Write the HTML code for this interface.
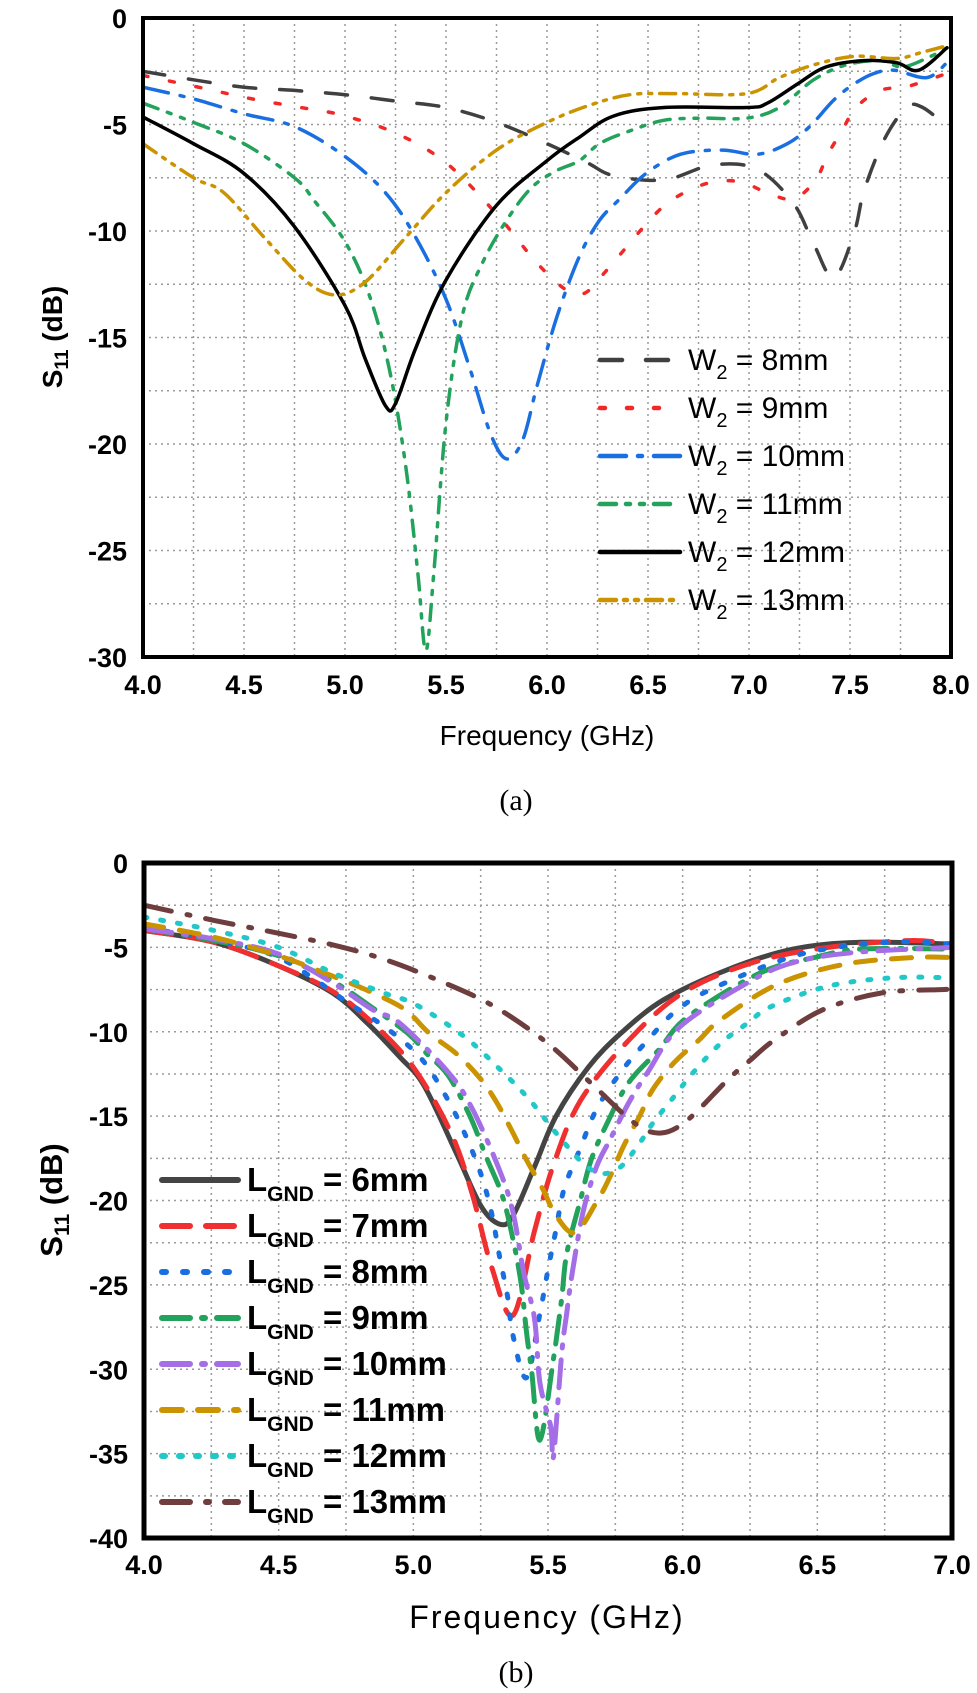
<!DOCTYPE html>
<html><head><meta charset="utf-8"><style>
html,body{margin:0;padding:0;background:#fff;}
svg{display:block;}
.tk{font-family:"Liberation Sans",Arial,sans-serif;font-weight:bold;font-size:27px;fill:#000;}
.lg{font-family:"Liberation Sans",Arial,sans-serif;font-size:30px;fill:#000;}
.lgb{font-family:"Liberation Sans",Arial,sans-serif;font-size:33px;font-weight:bold;fill:#000;}
</style></head><body>
<svg id="chart" width="977" height="1693" viewBox="0 0 977 1693">
<defs>
<clipPath id="clipA"><rect x="143" y="18" width="808" height="639"/></clipPath>
<clipPath id="clipB"><rect x="144" y="863" width="808" height="675"/></clipPath>
</defs>
<g id="gA"></g>
<g id="gB"></g>
<text x="547" y="745" text-anchor="middle" style="font-family:'Liberation Sans',Arial,sans-serif;font-size:28px">Frequency (GHz)</text>
<text x="516" y="810" text-anchor="middle" style="font-family:'Liberation Serif',serif;font-size:30px">(a)</text>
<text x="547" y="1628" text-anchor="middle" style="font-family:'Liberation Sans',Arial,sans-serif;font-size:32px;letter-spacing:2px">Frequency (GHz)</text>
<text x="516" y="1682" text-anchor="middle" style="font-family:'Liberation Serif',serif;font-size:30px">(b)</text>
<text transform="translate(62,337) rotate(-90)" text-anchor="middle" class="tk" style="font-size:28px">S<tspan font-size="19" dy="6">11</tspan><tspan dy="-6"> (dB)</tspan></text>
<text transform="translate(62,1200) rotate(-90)" text-anchor="middle" class="tk" style="font-size:31px">S<tspan font-size="21" dy="7">11</tspan><tspan dy="-7"> (dB)</tspan></text>
</svg>
<script>
// ---------- Chart A data ----------
const aLabels = ["8mm","9mm","10mm","11mm","12mm","13mm"];
const aX8 = [4.0,4.25,4.5,4.75,5.0,5.25,5.5,5.75,6.0,6.2,6.33,6.58,6.82,7.04,7.22,7.32,7.42,7.52,7.57,7.67,7.78,7.86,7.98];
const aY8 = [-2.5,-2.9,-3.25,-3.4,-3.6,-3.9,-4.2,-4.9,-5.9,-6.8,-7.4,-7.6,-6.9,-7.1,-8.7,-10.6,-12.2,-10.1,-8.1,-5.7,-4.2,-4.2,-5.1];
const aX9 = [4.0,4.3,4.54,4.78,4.98,5.25,5.5,5.75,5.95,6.1,6.19,6.29,6.38,6.47,6.57,6.68,6.82,6.96,7.09,7.22,7.33,7.39,7.46,7.53,7.65,7.79,7.98];
const aY9 = [-2.7,-3.3,-3.8,-4.2,-4.55,-5.4,-6.8,-9.2,-11.5,-12.8,-12.9,-11.9,-10.9,-9.9,-8.9,-8.2,-7.7,-7.7,-8.2,-8.5,-7.6,-6.4,-5.3,-4.2,-3.4,-3.2,-2.6];
const aX10 = [4.0,4.25,4.5,4.75,5.0,5.2,5.35,5.5,5.62,5.72,5.8,5.88,5.95,6.05,6.16,6.26,6.36,6.49,6.66,6.87,7.04,7.19,7.3,7.42,7.52,7.62,7.72,7.88,7.98];
const aY10 = [-3.25,-3.8,-4.5,-5.1,-6.5,-8.2,-10.3,-13.2,-16.5,-19.5,-20.7,-19.8,-17.3,-14,-11.2,-9.5,-8.5,-7.3,-6.4,-6.2,-6.4,-5.9,-5.1,-3.85,-3.1,-2.6,-2.45,-2.8,-2.1];
const aX11 = [4.0,4.25,4.5,4.75,4.85,5.0,5.12,5.22,5.3,5.36,5.4,5.44,5.5,5.58,5.68,5.8,5.92,6.04,6.16,6.26,6.41,6.58,6.77,6.99,7.15,7.32,7.48,7.65,7.76,7.9,7.98];
const aY11 = [-4.0,-4.9,-5.9,-7.5,-8.6,-10.5,-13,-16.5,-21,-26,-29.7,-26,-19,-14,-11.5,-9.5,-8,-7.2,-6.7,-5.9,-5.3,-4.8,-4.7,-4.7,-4.2,-2.9,-2.2,-2.0,-2.3,-1.8,-1.4];
const aX12 = [4.0,4.25,4.5,4.75,5.0,5.1,5.2,5.25,5.35,5.5,5.75,6.0,6.16,6.33,6.58,6.99,7.09,7.24,7.38,7.57,7.73,7.84,7.98];
const aY12 = [-4.65,-5.9,-7.3,-9.8,-13.5,-16,-18.2,-18.1,-15.5,-12.3,-8.8,-6.7,-5.6,-4.6,-4.2,-4.2,-4.0,-3.1,-2.3,-2.0,-2.1,-2.45,-1.4];
const aX13 = [4.0,4.25,4.4,4.6,4.8,4.95,5.1,5.3,5.5,5.75,6.0,6.21,6.41,6.63,6.99,7.15,7.32,7.52,7.73,7.86,7.98];
const aY13 = [-5.9,-7.5,-8.2,-10.3,-12.3,-13,-12.4,-10.3,-8.2,-6.2,-4.9,-4.1,-3.6,-3.55,-3.55,-2.8,-2.2,-1.8,-1.9,-1.6,-1.3];
const aXTicks = ["4.0","4.5","5.0","5.5","6.0","6.5","7.0","7.5","8.0"];
const aYTicks = ["0","-5","-10","-15","-20","-25","-30"];

// ---------- Chart B data ----------
const bLabels = ["6mm","7mm","8mm","9mm","10mm","11mm","12mm","13mm"];
const bX6 = [4.0,4.26,4.5,4.7,4.83,4.95,5.04,5.16,5.25,5.32,5.37,5.45,5.53,5.65,5.77,5.93,6.17,6.41,6.66,7.0];
const bY6 = [-4.0,-4.7,-6.1,-7.7,-9.5,-11.5,-13.2,-17.2,-20.3,-21.4,-20.9,-18,-15,-12.1,-10.1,-8.1,-6.3,-5.1,-4.7,-4.8];
const bX7 = [4.0,4.26,4.5,4.7,4.85,5.0,5.14,5.22,5.29,5.37,5.45,5.52,5.62,5.8,6.0,6.26,6.54,6.84,7.0];
const bY7 = [-4.0,-4.7,-6.1,-7.6,-9.5,-12.1,-16,-19.7,-23.9,-26.8,-21.8,-17.9,-14.1,-10.5,-7.7,-5.9,-5.0,-4.6,-4.8];
const bX8 = [4.0,4.26,4.5,4.76,4.91,5.03,5.12,5.19,5.25,5.29,5.32,5.35,5.37,5.42,5.47,5.5,5.53,5.56,5.62,5.68,5.77,5.87,5.98,6.13,6.44,6.76,7.0];
const bY8 = [-3.8,-4.6,-5.6,-8.3,-9.9,-11.6,-13.8,-16,-18.4,-20.7,-23.3,-25.7,-28,-30.5,-26.7,-24.1,-21.7,-19.3,-16.9,-14.6,-12.4,-10.5,-8.7,-7.3,-5.4,-4.7,-4.8];
const bX9 = [4.0,4.26,4.5,4.7,4.85,4.98,5.05,5.13,5.21,5.27,5.33,5.37,5.4,5.42,5.44,5.47,5.52,5.55,5.57,5.62,5.66,5.72,5.8,5.91,6.02,6.29,6.49,6.66,7.0];
const bY9 = [-3.9,-4.6,-5.5,-7.0,-8.6,-10.1,-11.3,-12.6,-15,-17.4,-19.7,-22.3,-24.9,-27.8,-30.2,-34.2,-29.4,-25.9,-23.1,-20,-17.6,-15.4,-13,-11.1,-9.1,-6.5,-5.6,-5.1,-5.1];
const bX10 = [4.0,4.26,4.5,4.7,4.85,4.95,5.13,5.22,5.32,5.37,5.41,5.45,5.47,5.51,5.52,5.55,5.57,5.59,5.63,5.68,5.73,5.8,5.87,5.99,6.24,6.41,6.64,7.0];
const bY10 = [-3.9,-4.5,-5.4,-7.1,-8.7,-9.5,-12.4,-14.6,-18.2,-20.7,-24.3,-27,-30.8,-33.4,-35.2,-29.2,-26.6,-24.3,-20.7,-18,-16.4,-14.2,-12.4,-9.7,-7.1,-5.9,-5.3,-5.0];
const bX11 = [4.0,4.26,4.5,4.7,4.85,4.97,5.06,5.16,5.25,5.31,5.37,5.42,5.48,5.53,5.6,5.68,5.73,5.78,5.84,5.89,5.97,6.06,6.14,6.35,6.6,6.86,7.0];
const bY11 = [-3.6,-4.4,-5.5,-6.7,-7.7,-8.7,-10.1,-11.3,-12.8,-14.2,-16,-17.6,-19.3,-20.9,-21.9,-20.1,-18.6,-16.8,-15,-13.4,-11.8,-10.5,-9.3,-7.2,-6.0,-5.6,-5.6];
const bX12 = [4.0,4.26,4.5,4.7,4.89,5.01,5.19,5.32,5.43,5.53,5.63,5.7,5.77,5.84,5.89,5.97,6.04,6.14,6.24,6.33,6.54,6.78,7.0];
const bY12 = [-3.2,-4.0,-5.0,-6.5,-7.7,-8.4,-10.3,-12.2,-14,-16,-17.8,-18.4,-18,-16.6,-15.4,-13.8,-12.4,-10.7,-9.5,-8.5,-7.3,-6.8,-6.8];
const bX13 = [4.0,4.26,4.48,4.7,4.89,5.1,5.3,5.5,5.67,5.82,5.92,6.02,6.17,6.25,6.34,6.52,6.74,6.96,7.0];
const bY13 = [-2.5,-3.4,-4.1,-4.85,-5.7,-7.0,-8.5,-10.7,-13.2,-15.4,-16,-15.2,-12.8,-11.7,-10.5,-8.7,-7.7,-7.5,-7.5];
const bXTicks = ["4.0","4.5","5.0","5.5","6.0","6.5","7.0"];
const bYTicks = ["0","-5","-10","-15","-20","-25","-30","-35","-40"];

const NS = "http://www.w3.org/2000/svg";
function mk(tag, parent, attrs){
  const e = document.createElementNS(NS, tag);
  for (const k in attrs) e.setAttribute(k, attrs[k]);
  parent.appendChild(e);
  return e;
}
function smoothPath(pts){
  let d = "M" + pts[0][0].toFixed(1) + "," + pts[0][1].toFixed(1);
  for (let i = 0; i < pts.length - 1; i++){
    const p0 = pts[i-1] || pts[i], p1 = pts[i], p2 = pts[i+1], p3 = pts[i+2] || p2;
    const c1x = p1[0] + (p2[0]-p0[0])/6, c1y = p1[1] + (p2[1]-p0[1])/6;
    const c2x = p2[0] - (p3[0]-p1[0])/6, c2y = p2[1] - (p3[1]-p1[1])/6;
    d += " C" + c1x.toFixed(1)+","+c1y.toFixed(1)+" "+c2x.toFixed(1)+","+c2y.toFixed(1)+" "+p2[0].toFixed(1)+","+p2[1].toFixed(1);
  }
  return d;
}

function drawChart(g, cfg){
  const xS = v => cfg.left + (v - cfg.xMin) / (cfg.xMax - cfg.xMin) * (cfg.right - cfg.left);
  const yS = v => cfg.top + (v - cfg.yMax) / (cfg.yMin - cfg.yMax) * (cfg.bottom - cfg.top);
  const grid = mk("g", g, {stroke:"#9a9a9a","stroke-width":1.5,"stroke-dasharray":"2 4"});
  
  
  for (let v = cfg.xMin + 0.25; v < cfg.xMax - 0.01; v += 0.25){
    const l = mk("line", grid, {x1:xS(v),x2:xS(v),y1:cfg.top,y2:cfg.bottom});
    
    
  }
  for (let v = cfg.yMax - 2.5; v > cfg.yMin + 0.01; v -= 2.5){
    const l = mk("line", grid, {x1:cfg.left,x2:cfg.right,y1:yS(v),y2:yS(v)});
    
    
  }
  const sg = mk("g", g, {"clip-path":"url(#"+cfg.clip+")", fill:"none","stroke-linecap":"round","stroke-linejoin":"round"});
  
  
  cfg.series.forEach((s) => {
    const pts = s.x.map((xv, i) => [xS(xv), yS(s.y[i])]);
    const p = mk("path", sg, {d: smoothPath(pts), stroke:s.color, "stroke-width":s.w, "stroke-dasharray":s.dash});
    
    
  });
  const b = mk("rect", g, {x:cfg.left,y:cfg.top,width:cfg.right-cfg.left,height:cfg.bottom-cfg.top,fill:"none",stroke:"#000","stroke-width":cfg.bw});
  
  
  cfg.xTicks.forEach((t) => {
    const tx = mk("text", g, {x:xS(parseFloat(t)), y:cfg.xTickY, "text-anchor":"middle", class:"tk", style:"font-size:"+cfg.tfs+"px"});
    tx.textContent = t;
    
    
  });
  cfg.yTicks.forEach((t) => {
    const ty = mk("text", g, {x:cfg.left-16, y:yS(parseFloat(t))+10, "text-anchor":"end", class:"tk", style:"font-size:"+cfg.tfs+"px"});
    ty.textContent = t;
    
    
  });
  cfg.series.forEach((s, i) => {
    const cy = cfg.legY0 + i * cfg.legDy;
    const ln = mk("line", g, {x1:cfg.legX1, x2:cfg.legX2, y1:cy, y2:cy, stroke:s.color, "stroke-width":s.w+1, "stroke-dasharray":s.dash, "stroke-linecap":"round"});
    
    
    const tx = mk("text", g, {x:cfg.legTx, y:cy + cfg.legBase, class:cfg.legClass});
    
    
    const a = document.createElementNS(NS, "tspan"); a.textContent = cfg.legMain; tx.appendChild(a);
    const sub = document.createElementNS(NS, "tspan");
    sub.setAttribute("dy", cfg.subDy); sub.setAttribute("font-size", cfg.subFs);
    sub.textContent = cfg.legSub; tx.appendChild(sub);
    const rest = document.createElementNS(NS, "tspan");
    rest.setAttribute("dy", -cfg.subDy);
    rest.textContent = " = " + s.label; tx.appendChild(rest);
  });
}

drawChart(document.getElementById("gA"), {
  left:143, right:951, top:18, bottom:657, xMin:4, xMax:8, yMin:-30, yMax:0, clip:"clipA", bw:4,
  xTicks:aXTicks, yTicks:aYTicks, xTickY:694, tfs:27,
  legY0:360, legDy:48, legX1:600, legX2:680, legTx:688, legBase:10, legClass:"lg",
  legMain:"W", legSub:"2", subDy:9, subFs:20,
  series:[
    {name:"w2-8mm", label:aLabels[0], x:aX8, y:aY8, color:"#404040", w:3.5, dash:"22 24"},
    {name:"w2-9mm", label:aLabels[1], x:aX9, y:aY9, color:"#f02828", w:3.5, dash:"5 22"},
    {name:"w2-10mm", label:aLabels[2], x:aX10, y:aY10, color:"#1a6fe0", w:3.5, dash:"26 12 4 12"},
    {name:"w2-11mm", label:aLabels[3], x:aX11, y:aY11, color:"#22a25a", w:3.5, dash:"16 10 4 10 4 10"},
    {name:"w2-12mm", label:aLabels[4], x:aX12, y:aY12, color:"#000000", w:3.5, dash:"none"},
    {name:"w2-13mm", label:aLabels[5], x:aX13, y:aY13, color:"#cc9300", w:3.5, dash:"16 8 3 8 3 8"}
  ]
});

drawChart(document.getElementById("gB"), {
  left:144, right:952, top:863, bottom:1538, xMin:4, xMax:7, yMin:-40, yMax:0, clip:"clipB", bw:5,
  xTicks:bXTicks, yTicks:bYTicks, xTickY:1574, tfs:27,
  legY0:1180, legDy:46, legX1:162, legX2:238, legTx:247, legBase:11, legClass:"lgb",
  legMain:"L", legSub:"GND", subDy:10, subFs:21,
  series:[
    {name:"lgnd-6mm", label:bLabels[0], x:bX6, y:bY6, color:"#444444", w:5, dash:"none"},
    {name:"lgnd-7mm", label:bLabels[1], x:bX7, y:bY7, color:"#f03030", w:5, dash:"28 16"},
    {name:"lgnd-8mm", label:bLabels[2], x:bX8, y:bY8, color:"#1a6fe0", w:5, dash:"4 17"},
    {name:"lgnd-9mm", label:bLabels[3], x:bX9, y:bY9, color:"#22a25a", w:5, dash:"28 12 3 12"},
    {name:"lgnd-10mm", label:bLabels[4], x:bX10, y:bY10, color:"#a46ee6", w:5, dash:"28 12 3 12"},
    {name:"lgnd-11mm", label:bLabels[5], x:bX11, y:bY11, color:"#cc9300", w:5, dash:"20 16"},
    {name:"lgnd-12mm", label:bLabels[6], x:bX12, y:bY12, color:"#22c8c8", w:5, dash:"3 14"},
    {name:"lgnd-13mm", label:bLabels[7], x:bX13, y:bY13, color:"#6e3d3d", w:5, dash:"28 16 3 16"}
  ]
});
</script>
</body></html>
